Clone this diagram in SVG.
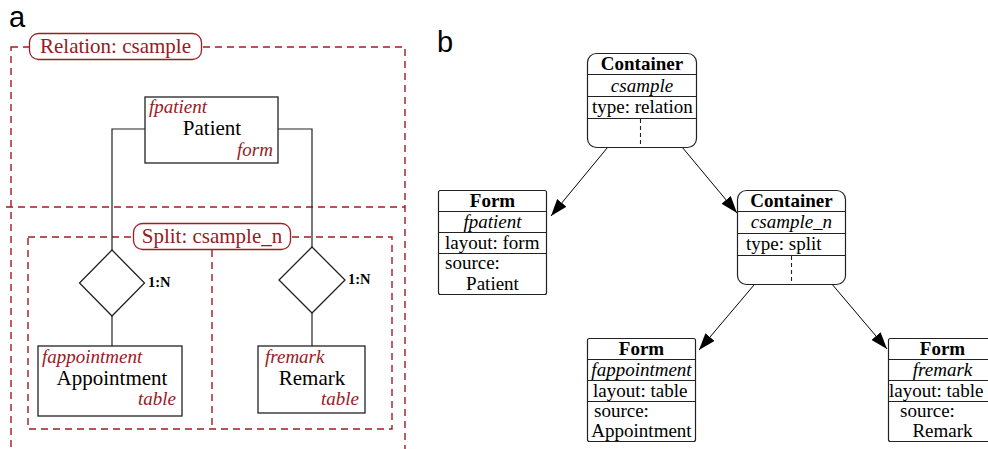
<svg xmlns="http://www.w3.org/2000/svg" width="988" height="449" viewBox="0 0 988 449">
  <style>
    .panel { font-family: "Liberation Sans", Arial, sans-serif; font-size: 29px; fill: #000; }
    .zone { fill: none; stroke: #a01c24; stroke-width: 1.4; stroke-dasharray: 7 5; }
    .tag { fill: #fff; stroke: #a01c24; stroke-width: 1.3; }
    .tagtxt { font-family: "Liberation Serif", "Times New Roman", serif; font-size: 21px; fill: #981a1e; text-anchor: middle; }
    .ent { fill: #fff; stroke: #222; stroke-width: 1.3; }
    .name { font-family: "Liberation Serif", "Times New Roman", serif; font-size: 21px; fill: #000; text-anchor: middle; }
    .meta { font-family: "Liberation Serif", "Times New Roman", serif; font-size: 19px; font-style: italic; fill: #981a1e; }
    .card { font-family: "Liberation Serif", "Times New Roman", serif; font-size: 14.5px; font-weight: bold; fill: #000; }
    .wire { fill: none; stroke: #222; stroke-width: 1.2; }
    .box { fill: #fff; stroke: #222; stroke-width: 1.2; }
    .sep { stroke: #222; stroke-width: 1.1; }
    .dsep { stroke: #222; stroke-width: 1.1; stroke-dasharray: 4 3; }
    .t { font-family: "Liberation Serif", "Times New Roman", serif; font-size: 19px; fill: #000; }
    .c { text-anchor: middle; }
    .b { font-weight: bold; }
    .i { font-style: italic; }
    .arrow { stroke: #000; stroke-width: 1; fill: none; marker-end: url(#head); }
  </style>
  <defs>
    <marker id="head" viewBox="0 0 17 12" refX="17" refY="6" markerWidth="17" markerHeight="12" markerUnits="userSpaceOnUse" orient="auto">
      <path d="M0,0 L17,6 L0,12 z" fill="#000"/>
    </marker>
  </defs>

  <rect width="988" height="449" fill="#fff"/>

  <!-- panel letters -->
  <text class="panel" x="9" y="27">a</text>
  <text class="panel" x="437" y="52">b</text>

  <!-- ===== panel a: grouping zones ===== -->
  <g id="zone-relation">
    <rect class="zone" x="11" y="47" width="394" height="430"/>
    <line class="zone" x1="6" y1="207" x2="405" y2="207"/>
    <rect class="tag" x="29.5" y="33.5" width="172" height="26" rx="9"/>
    <text class="tagtxt" x="115.5" y="53">Relation: csample</text>
  </g>
  <g id="zone-split">
    <rect class="zone" x="28" y="237" width="364" height="192"/>
    <line class="zone" x1="212" y1="250" x2="212" y2="429"/>
    <rect class="tag" x="133.5" y="223.5" width="157" height="26" rx="9"/>
    <text class="tagtxt" x="212" y="243">Split: csample_n</text>
  </g>

  <!-- ===== panel a: connectors ===== -->
  <g id="er-links">
    <polyline class="wire" points="145,129 112,129 112,250"/>
    <polyline class="wire" points="278,129 312,129 312,247"/>
    <line class="wire" x1="112" y1="316" x2="112" y2="346"/>
    <line class="wire" x1="312" y1="313" x2="312" y2="346"/>
  </g>

  <!-- ===== panel a: entities and relationships ===== -->
  <g id="ent-patient">
    <rect class="ent" x="145" y="97" width="133" height="66"/>
    <text class="meta" x="149" y="113">fpatient</text>
    <text class="name" x="212" y="135">Patient</text>
    <text class="meta" x="273" y="156" text-anchor="end">form</text>
  </g>
  <g id="rel-appointment">
    <polygon class="ent" points="112,250 144.5,283 112,316 79.5,283"/>
    <text class="card" x="148" y="287">1:N</text>
  </g>
  <g id="rel-remark">
    <polygon class="ent" points="312,247 345,280 312,313 279,280"/>
    <text class="card" x="348" y="284">1:N</text>
  </g>
  <g id="ent-appointment">
    <rect class="ent" x="38" y="346" width="144" height="70"/>
    <text class="meta" x="42" y="363">fappointment</text>
    <text class="name" x="112" y="385">Appointment</text>
    <text class="meta" x="176" y="405" text-anchor="end">table</text>
  </g>
  <g id="ent-remark">
    <rect class="ent" x="258" y="346" width="107" height="67"/>
    <text class="meta" x="265" y="363">fremark</text>
    <text class="name" x="312" y="385">Remark</text>
    <text class="meta" x="359" y="405" text-anchor="end">table</text>
  </g>

  <!-- ===== panel b: connectors ===== -->
  <g id="tree-links">
    <line class="arrow" x1="617" y1="136" x2="551" y2="216"/>
    <line class="arrow" x1="672" y1="135" x2="737" y2="213"/>
    <line class="arrow" x1="765" y1="272" x2="699" y2="350"/>
    <line class="arrow" x1="820" y1="270" x2="887" y2="349"/>
  </g>

  <!-- ===== panel b: containers ===== -->
  <g id="container-csample">
    <rect class="box" x="587.5" y="53.5" width="109" height="94" rx="9"/>
    <line class="sep" x1="587.5" y1="74.5" x2="696.5" y2="74.5"/>
    <line class="sep" x1="587.5" y1="96.5" x2="696.5" y2="96.5"/>
    <line class="sep" x1="587.5" y1="118.5" x2="696.5" y2="118.5"/>
    <line class="dsep" x1="640.5" y1="119" x2="640.5" y2="147"/>
    <text class="t b c" x="642" y="70">Container</text>
    <text class="t i c" x="642" y="92">csample</text>
    <text class="t" x="592" y="113">type: relation</text>
  </g>
  <g id="container-csample_n">
    <rect class="box" x="737.5" y="190.5" width="108" height="94" rx="9"/>
    <line class="sep" x1="737.5" y1="211.5" x2="845.5" y2="211.5"/>
    <line class="sep" x1="737.5" y1="233.5" x2="845.5" y2="233.5"/>
    <line class="sep" x1="737.5" y1="255.5" x2="845.5" y2="255.5"/>
    <line class="dsep" x1="791.5" y1="256" x2="791.5" y2="284"/>
    <text class="t b c" x="791.5" y="207">Container</text>
    <text class="t i c" x="791.5" y="228">csample_n</text>
    <text class="t" x="746" y="250">type: split</text>
  </g>

  <!-- ===== panel b: forms ===== -->
  <g id="form-fpatient">
    <rect class="box" x="438.5" y="190.5" width="108" height="104" rx="2"/>
    <line class="sep" x1="438.5" y1="211.5" x2="546.5" y2="211.5"/>
    <line class="sep" x1="438.5" y1="232.5" x2="546.5" y2="232.5"/>
    <line class="sep" x1="438.5" y1="253.5" x2="546.5" y2="253.5"/>
    <text class="t b c" x="492.5" y="207">Form</text>
    <text class="t i c" x="492.5" y="228">fpatient</text>
    <text class="t" x="445" y="249">layout: form</text>
    <text class="t" x="445" y="269">source:</text>
    <text class="t c" x="492.5" y="290">Patient</text>
  </g>
  <g id="form-fappointment">
    <rect class="box" x="587.5" y="338.5" width="108" height="103" rx="2"/>
    <line class="sep" x1="587.5" y1="359.5" x2="695.5" y2="359.5"/>
    <line class="sep" x1="587.5" y1="380.5" x2="695.5" y2="380.5"/>
    <line class="sep" x1="587.5" y1="401.5" x2="695.5" y2="401.5"/>
    <text class="t b c" x="641.5" y="355">Form</text>
    <text class="t i c" x="641.5" y="376">fappointment</text>
    <text class="t" x="593" y="397">layout: table</text>
    <text class="t" x="594" y="417">source:</text>
    <text class="t c" x="641.5" y="437">Appointment</text>
  </g>
  <g id="form-fremark">
    <rect class="box" x="888.5" y="338.5" width="108" height="103" rx="2"/>
    <line class="sep" x1="888.5" y1="359.5" x2="996.5" y2="359.5"/>
    <line class="sep" x1="888.5" y1="380.5" x2="996.5" y2="380.5"/>
    <line class="sep" x1="888.5" y1="401.5" x2="996.5" y2="401.5"/>
    <text class="t b c" x="942.5" y="355">Form</text>
    <text class="t i c" x="942.5" y="376">fremark</text>
    <text class="t" x="889" y="397">layout: table</text>
    <text class="t" x="900" y="417">source:</text>
    <text class="t c" x="942.5" y="437">Remark</text>
  </g>
</svg>
